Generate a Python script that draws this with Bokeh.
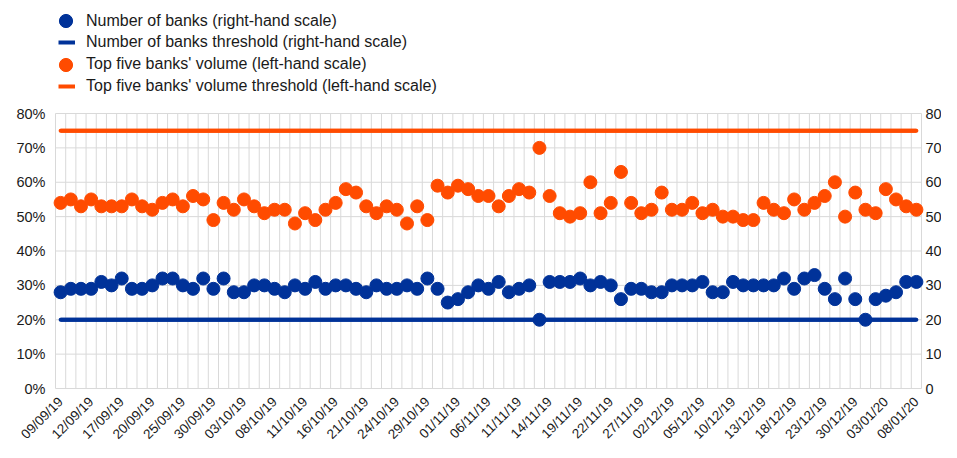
import math
from bokeh.plotting import figure
from bokeh.models import (ColumnDataSource, Range1d, LinearAxis, FixedTicker,
                          Legend, LegendItem)
from bokeh.embed import file_html
from bokeh.resources import INLINE

# ---------------- data ----------------
dates = [
    "09/09/19", "10/09/19", "11/09/19", "12/09/19", "13/09/19", "16/09/19", "17/09/19",
    "18/09/19", "19/09/19", "20/09/19", "23/09/19", "24/09/19", "25/09/19", "26/09/19",
    "27/09/19", "30/09/19",
    "01/10/19", "02/10/19", "03/10/19", "04/10/19", "07/10/19", "08/10/19", "09/10/19",
    "10/10/19", "11/10/19", "14/10/19", "15/10/19", "16/10/19", "17/10/19", "18/10/19",
    "21/10/19", "22/10/19", "23/10/19", "24/10/19", "25/10/19", "28/10/19", "29/10/19",
    "30/10/19", "31/10/19",
    "01/11/19", "04/11/19", "05/11/19", "06/11/19", "07/11/19", "08/11/19", "11/11/19",
    "12/11/19", "13/11/19", "14/11/19", "15/11/19", "18/11/19", "19/11/19", "20/11/19",
    "21/11/19", "22/11/19", "25/11/19", "26/11/19", "27/11/19", "28/11/19", "29/11/19",
    "02/12/19", "03/12/19", "04/12/19", "05/12/19", "06/12/19", "09/12/19", "10/12/19",
    "11/12/19", "12/12/19", "13/12/19", "16/12/19", "17/12/19", "18/12/19", "19/12/19",
    "20/12/19", "23/12/19", "24/12/19", "27/12/19", "30/12/19", "31/12/19",
    "02/01/20", "03/01/20", "06/01/20", "07/01/20", "08/01/20",
]

# Top five banks' volume (%, left-hand scale)
top_five_volume = [
    54, 55, 53, 55, 53, 53, 53, 55, 53, 52, 54, 55, 53, 56, 55,
    49, 54, 52, 55, 53, 51, 52, 52, 48, 51, 49, 52, 54, 58,
    57, 53, 51, 53, 52, 48, 53, 49, 59, 57, 59, 58, 56, 56,
    53, 56, 58, 57, 70, 56, 51, 50, 51, 60, 51, 54, 63, 54,
    51, 52, 57, 52, 52, 54, 51, 52, 50, 50, 49, 49, 54, 52,
    51, 55, 52, 54, 56, 60, 50, 57, 52, 51, 58, 55, 53, 52,
]

# Number of banks (right-hand scale)
number_of_banks = [
    28, 29, 29, 29, 31, 30, 32, 29, 29, 30, 32, 32, 30, 29, 32,
    29, 32, 28, 28, 30, 30, 29, 28, 30, 29, 31, 29, 30, 30,
    29, 28, 30, 29, 29, 30, 29, 32, 29, 25, 26, 28, 30, 29,
    31, 28, 29, 30, 20, 31, 31, 31, 32, 30, 31, 30, 26, 29,
    29, 28, 28, 30, 30, 30, 31, 28, 28, 31, 30, 30, 30, 30,
    32, 29, 32, 33, 29, 26, 32, 26, 20, 26, 27, 28, 31, 31,
]

volume_threshold = 75
banks_threshold = 20

left_ticks = [0, 10, 20, 30, 40, 50, 60, 70, 80]
right_ticks = [0, 10, 20, 30, 40, 50, 60, 70, 80]
label_step = 3

labels = [
    "Number of banks (right-hand scale)",
    "Number of banks threshold (right-hand scale)",
    "Top five banks' volume (left-hand scale)",
    "Top five banks' volume threshold (left-hand scale)",
]

# ---------------- styling / layout ----------------
BLUE = "#003299"
ORANGE = "#FF4B00"
GRID = "#d9d9d9"
TEXT = "#1a1a1a"
FONT = "Liberation Sans"

W, H = 941, 442
PLOT_LEFT_PX, PLOT_RIGHT_PX = 55, 921   # pixel columns of the plot-area edges
PLOT_TOP_PX, PLOT_BOTTOM_PX = 113, 388  # pixel rows of the 80 and 0 lines

n = len(dates)
idx = list(range(n))
x_lo, x_hi = -0.5, n - 0.5
y_lo, y_hi = left_ticks[0], left_ticks[-1]

# the frame fills the whole canvas; ranges are widened so the plot area sits
# where it should and the axes (pinned to the plot-area edges) stay visible
px_x = (PLOT_RIGHT_PX - PLOT_LEFT_PX) / (x_hi - x_lo)
px_y = (PLOT_BOTTOM_PX - PLOT_TOP_PX) / (y_hi - y_lo)
x_start = x_lo - PLOT_LEFT_PX / px_x
x_end = x_hi + (W - PLOT_RIGHT_PX) / px_x
y_start = y_lo - (H - PLOT_BOTTOM_PX) / px_y
y_end = y_hi + PLOT_TOP_PX / px_y

src = ColumnDataSource(dict(
    x=idx,
    vol=top_five_volume,
    banks=number_of_banks,
    vol_thr=[volume_threshold] * n,
    banks_thr=[banks_threshold] * n,
))

p = figure(width=W, height=H,
           x_range=Range1d(x_start, x_end),
           y_range=Range1d(y_start, y_end),
           output_backend="svg", toolbar_location=None,
           min_border_left=0, min_border_right=0,
           min_border_top=0, min_border_bottom=0)
p.extra_y_ranges = {"right": Range1d(y_start, y_end)}
p.title.visible = False
p.outline_line_color = None
p.background_fill_color = "white"
p.border_fill_color = "white"
p.xgrid.visible = False
p.ygrid.visible = False

# grid: vertical lines between days, horizontal lines at the ticks
vgrid = ColumnDataSource(dict(x=[i - 0.5 for i in range(n + 1)]))
p.segment(x0="x", y0=y_lo, x1="x", y1=y_hi, source=vgrid,
          line_color=GRID, line_width=1)
hgrid = ColumnDataSource(dict(y=left_ticks))
p.segment(x0=x_lo, y0="y", x1=x_hi, y1="y", source=hgrid,
          line_color=GRID, line_width=1)


def strip_ticks(ax):
    ax.axis_line_color = None
    ax.major_tick_line_color = None
    ax.minor_tick_line_color = None
    ax.major_tick_out = 0
    ax.major_tick_in = 0
    ax.minor_tick_out = 0
    ax.minor_tick_in = 0


# x axis pinned at the 0 line, labels every third day, rotated
xa = p.xaxis[0]
xa.fixed_location = y_lo
xa.ticker = FixedTicker(ticks=idx[::label_step])
xa.major_label_overrides = {i: dates[i] for i in idx[::label_step]}
xa.major_label_orientation = math.pi / 4
xa.major_label_text_font = FONT
xa.major_label_text_font_size = "13.5px"
xa.major_label_text_color = TEXT
xa.major_label_standoff = 11
strip_ticks(xa)

# left axis pinned at the left edge of the plot area
ya = p.yaxis[0]
ya.fixed_location = x_lo
ya.ticker = FixedTicker(ticks=left_ticks)
ya.major_label_overrides = {v: f"{v}%" for v in left_ticks}
ya.major_label_text_font = FONT
ya.major_label_text_font_size = "14.5px"
ya.major_label_text_color = TEXT
ya.major_label_standoff = 10
strip_ticks(ya)

# right axis pinned at the right edge of the plot area
ra = LinearAxis(y_range_name="right", ticker=FixedTicker(ticks=right_ticks),
                fixed_location=x_hi)
ra.major_label_overrides = {v: str(v) for v in right_ticks}
ra.major_label_text_font = FONT
ra.major_label_text_font_size = "14.5px"
ra.major_label_text_color = TEXT
ra.major_label_standoff = 4
strip_ticks(ra)
p.add_layout(ra, "right")

# series
p.line("x", "vol_thr", source=src, line_color=ORANGE, line_width=4,
       line_cap="round")
p.line("x", "banks_thr", source=src, line_color=BLUE, line_width=4,
       line_cap="round", y_range_name="right")
# same lines with flat ends, used for the legend swatches
leg_vthr = p.line("x", "vol_thr", source=src, line_color=ORANGE, line_width=4,
                  line_cap="butt")
leg_bthr = p.line("x", "banks_thr", source=src, line_color=BLUE, line_width=4,
                  line_cap="butt", y_range_name="right")
r_banks = p.scatter("x", "banks", source=src, size=13, fill_color=BLUE,
                    line_color=BLUE, y_range_name="right")
r_vol = p.scatter("x", "vol", source=src, size=13, fill_color=ORANGE,
                  line_color=ORANGE)


def make_legend(label, renderer, loc, gw, gh, standoff):
    lg = Legend(items=[LegendItem(label=label, renderers=[renderer])],
                location=loc, glyph_width=gw, glyph_height=gh,
                label_height=gh, label_standoff=standoff,
                label_text_font=FONT, label_text_font_size="16px",
                label_text_color=TEXT, padding=0, margin=0, spacing=0,
                border_line_color=None, background_fill_alpha=0)
    p.add_layout(lg, "center")


make_legend(labels[0], r_banks, (49, 405), 33, 33, 4)
make_legend(labels[1], leg_bthr, (58, 391), 17, 18, 11)
make_legend(labels[2], r_vol, (49, 361.5), 33, 33, 4)
make_legend(labels[3], leg_vthr, (58, 347.5), 17, 18, 11)

open("out.html", "w").write(file_html(p, INLINE))
